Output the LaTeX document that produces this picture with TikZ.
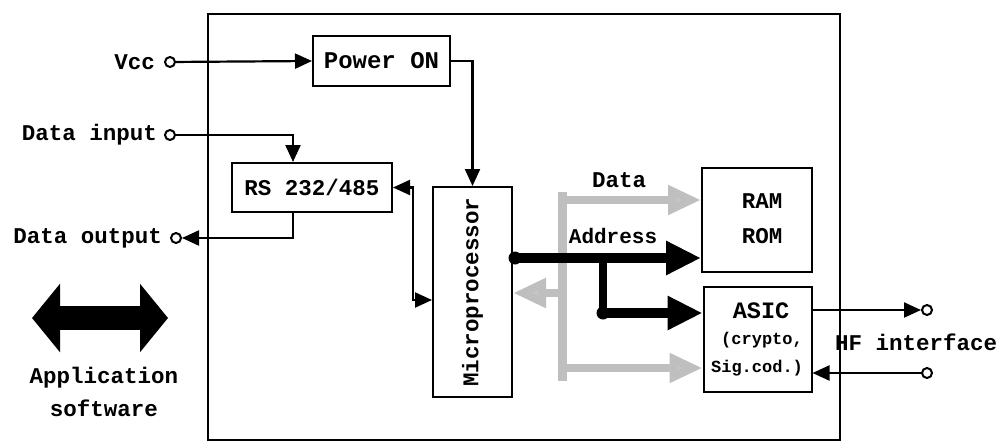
\documentclass[tikz,border=0pt]{standalone}
\usepackage{fontspec}
\setmainfont{Liberation Mono}
\usetikzlibrary{arrows.meta,calc}
\tikzset{
  txt/.style={font=\bfseries\fontsize{22.5}{26}\selectfont, inner sep=0pt},
  small/.style={font=\bfseries\fontsize{17}{20}\selectfont, inner sep=0pt},
  blk/.style={draw, line width=2pt, inner sep=0pt, font=\bfseries\fontsize{22.5}{26}\selectfont},
  term/.style={circle, draw, line width=2pt, minimum size=10pt, inner sep=0pt},
  wire/.style={line width=2.2pt, -{Triangle[length=17pt,width=15pt]}},
  wire2/.style={line width=2.2pt, {Triangle[length=17pt,width=15pt]}-{Triangle[length=17pt,width=15pt]}},
  bus/.style={line width=10pt, -{Triangle[length=35pt,width=32pt]}},
  gbus/.style={line width=8pt, draw=gray!50, -{Triangle[length=33pt,width=28pt,fill=gray!45]}},
}
\begin{document}
\begin{tikzpicture}[x=1pt,y=-1pt]
\useasboundingbox (0,0) rectangle (1000,444);
% outer card
\draw[line width=1.5pt] (208,14) rectangle (840,440);
% blocks
\node[blk, minimum width=137pt, minimum height=50pt, font=\bfseries\fontsize{24}{28}\selectfont] (pwr) at (381.5,61) {Power ON};
\node[blk, minimum width=160pt, minimum height=49pt] (rs) at (312,187.5) {RS 232/485};
\node[blk, minimum width=79pt, minimum height=210pt] (micro) at (472.5,292) {};
\node[txt, rotate=90] (microtxt) at (472.5,292) {Microprocessor};
\node[blk, minimum width=110pt, minimum height=104pt] (ram) at (757,220) {};
\node[txt] (ramt) at (762,201) {RAM};
\node[txt] (romt) at (762,236) {ROM};
\node[blk, minimum width=108pt, minimum height=105pt] (asic) at (757.5,339.5) {};
\node[txt, font=\bfseries\fontsize{23.5}{26}\selectfont] (asict) at (761,311) {ASIC};
\node[small] (cryt) at (762,340) {(crypto,};
\node[small] (sigt) at (757,368) {Sig.cod.)};
% terminals and labels
\node[term] (vcc) at (170,62) {};
\node[txt, anchor=east] (vcct) at (155,62) {Vcc};
\node[term] (din) at (170,135) {};
\node[txt, anchor=east] (dint) at (157,135) {Data input};
\node[term] (dout) at (176,238) {};
\node[txt, anchor=east] (doutt) at (162,238) {Data output};
\node[term] (hfo) at (927,310) {};
\node[term] (hfi) at (927,373) {};
\node[txt] (hft) at (916,342) {HF interface};
\node[txt] (labdata) at (619,180) {Data};
\node[txt, font=\bfseries\fontsize{21}{24}\selectfont] (labaddr) at (613,236) {Address};
% thin connectors
\draw[wire] (vcc) -- (pwr.west);
\draw[wire] (din) -| ([xshift=-19pt]rs.north);
\draw[wire] ([xshift=-19pt]rs.south) |- (dout);
\draw[wire] (pwr.east) -| (micro.north);
\coordinate (rsbend) at (413,300);
\draw[wire2] (rs.east) -| (rsbend) -- (rsbend -| micro.west);
\draw[wire] (asic.east |- hfo) -- (hfo);
\draw[wire] (hfi) -- (asic.east |- hfi);
% gray data bus
\coordinate (dtop) at (562,200);
\coordinate (dmid) at (562,293);
\coordinate (dbot) at (562,368);
\draw[line width=9pt, gray!50] (562,192) -- (562,381);
\draw[gbus] (dtop) -- (dtop -| ram.west);
\draw[gbus] (dbot) -- (dbot -| asic.west);
\draw[gbus] (dmid) -- (dmid -| micro.east);
% address bus
\coordinate (astart) at (515,258);
\coordinate (abr) at (603,258);
\coordinate (acorner) at (603,313);
\draw[bus] (astart) -- (astart -| ram.west);
\draw[line width=8pt] (abr) -- (acorner);
\draw[bus] (acorner) -- (acorner -| asic.west);
\fill (astart) circle (6.5pt);
\fill (acorner) circle (6.5pt);
% application software
\coordinate (al) at (32,318);
\coordinate (ar) at (168,318);
\draw[line width=24pt, {Triangle[length=28pt,width=67pt]}-{Triangle[length=28pt,width=67pt]}] (al) -- (ar);
\node[txt] (appt) at (104,378) {Application};
\node[txt] (softt) at (104,408) {software};
\end{tikzpicture}
\end{document}
